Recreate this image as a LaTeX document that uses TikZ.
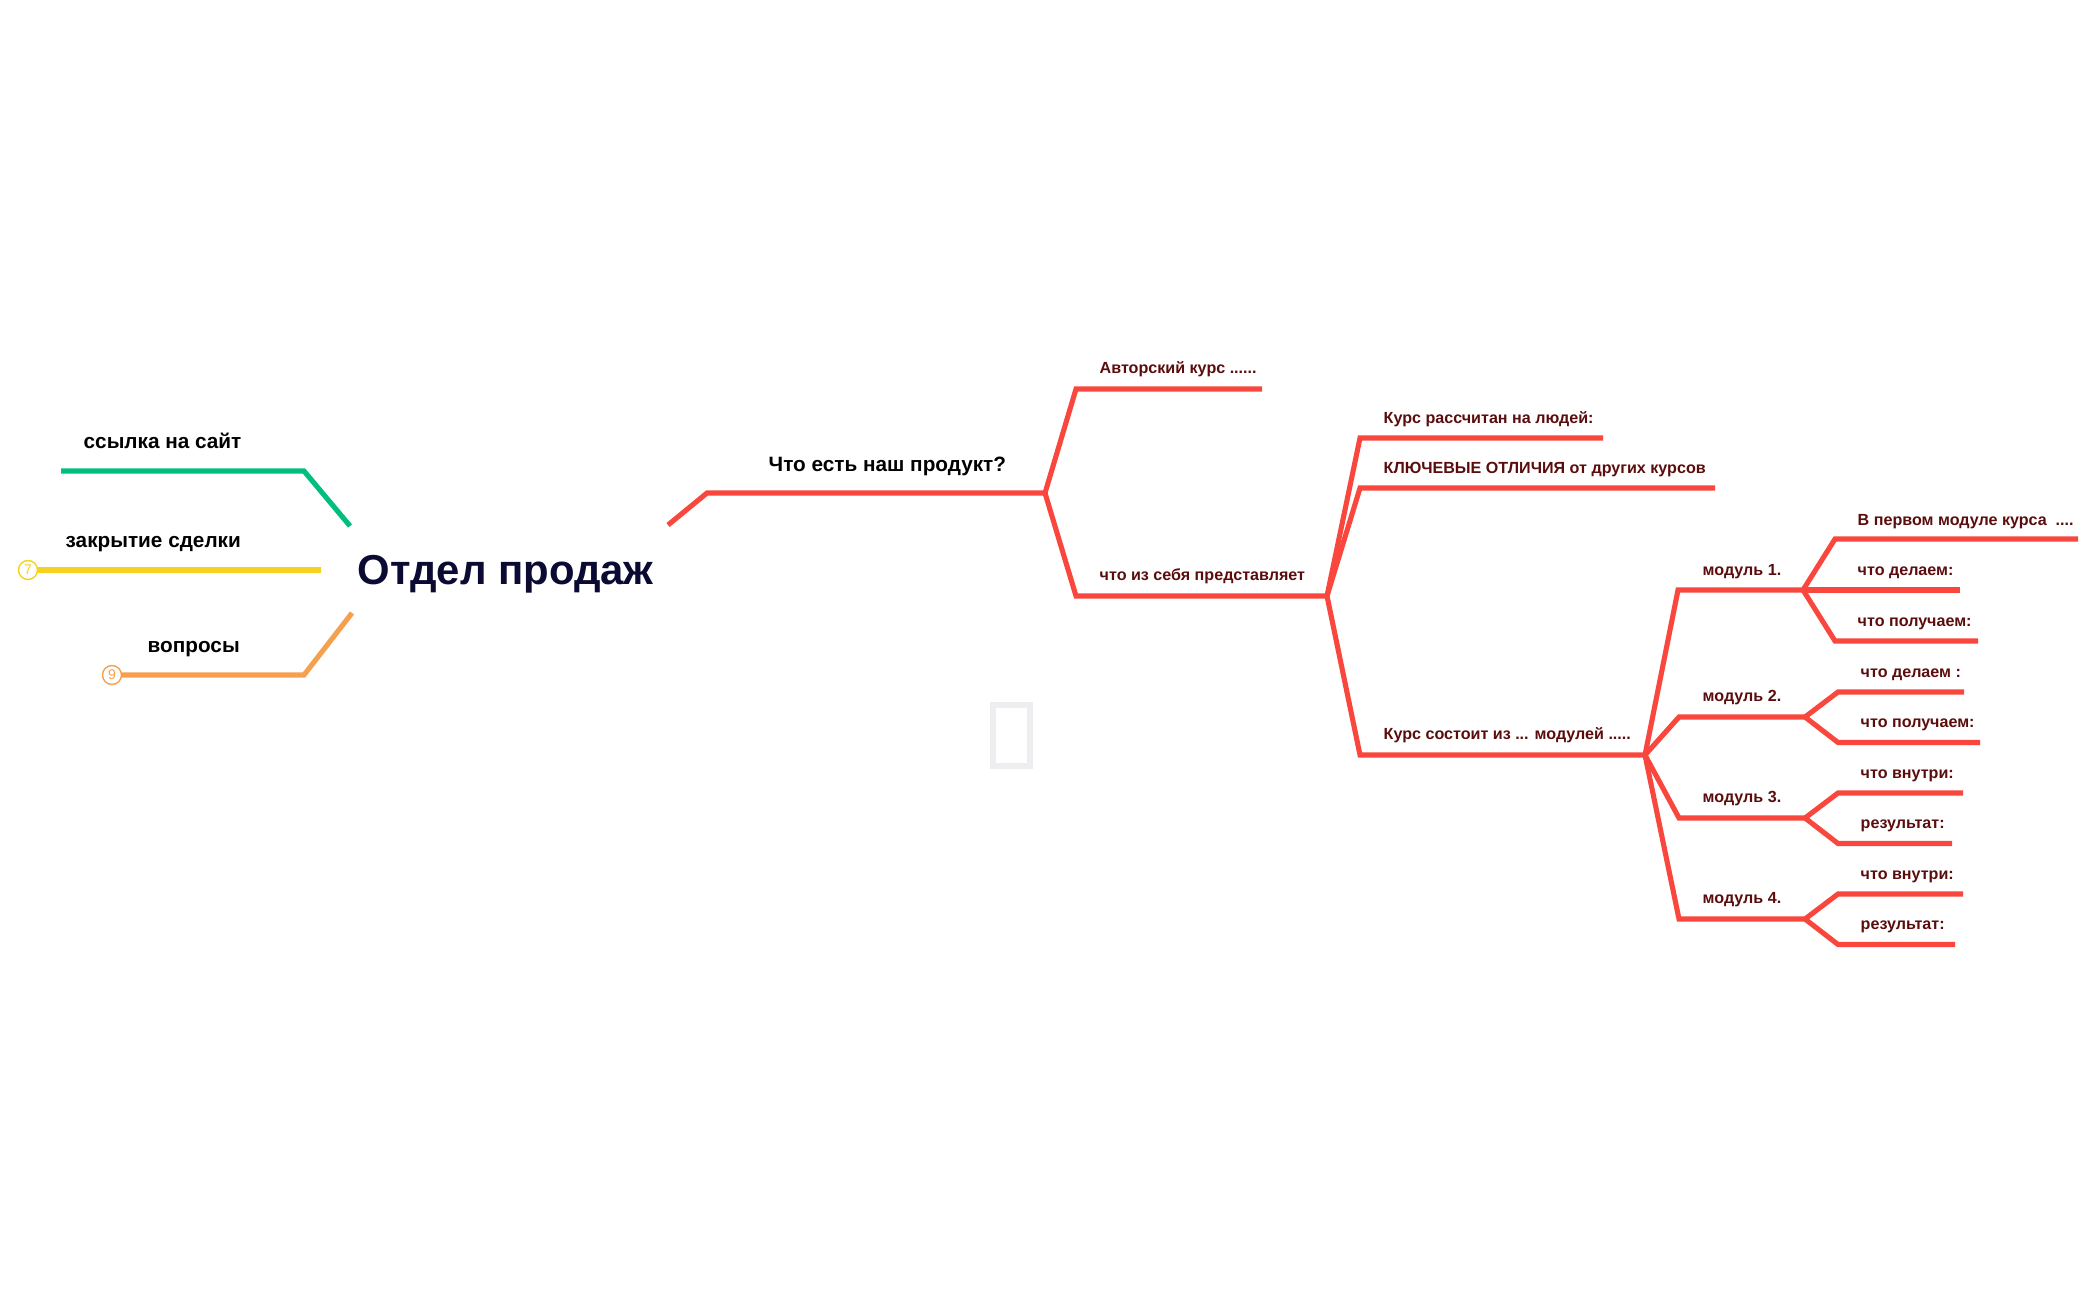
\documentclass[tikz,border=0pt]{standalone}
\usepackage{fontspec}
\setmainfont{Liberation Sans}
\definecolor{branchred}{HTML}{F9473E}
\definecolor{sitegreen}{HTML}{00BE7C}
\definecolor{dealyellow}{HTML}{F4D21F}
\definecolor{askorange}{HTML}{F5A04F}
\definecolor{subred}{HTML}{5B0D0D}
\definecolor{rootnavy}{HTML}{0A0A32}
\definecolor{tofugray}{HTML}{EEEEF0}

\begin{document}
\begin{tikzpicture}[x=0.01cm,y=-0.01cm,
    every node/.style={inner sep=0pt, anchor=base west},
    redline/.style={draw=branchred, line width=1.45pt},
    sideline/.style={draw=#1, line width=1.45pt},
    roottext/.style={font=\bfseries\fontsize{11.9}{13}\selectfont, text=rootnavy},
    lefttext/.style={font=\bfseries\fontsize{5.9}{7}\selectfont, text=black},
    subtext/.style={font=\bfseries\fontsize{4.58}{5}\selectfont, text=subred},
    badge/.style={circle, draw=#1, text=#1, line width=0.4pt, minimum size=0.19cm,
        anchor=center, font=\fontsize{4}{4}\selectfont}]

    \useasboundingbox (0,0) rectangle (2097,1300);

    % Centre
    \node[roottext] (root) at (357,584) {Отдел продаж};

    % Left branches
    \coordinate (site0) at (350,526);
    \coordinate (site1) at (304,471);
    \coordinate (site2) at (61,471);
    \draw[sideline=sitegreen] (site0) -- (site1) -- (site2);
    \node[lefttext] (site) at (83,448) {ссылка на сайт};

    \coordinate (deal0) at (321,570);
    \node[badge=dealyellow] (dealno) at (28,570) {7};
    \draw[sideline=dealyellow] (deal0) -- (dealno.east);
    \node[lefttext] (deal) at (65,547) {закрытие сделки};

    \coordinate (ask0) at (352,613);
    \coordinate (ask1) at (304,675);
    \node[badge=askorange] (askno) at (112,675) {9};
    \draw[sideline=askorange] (ask0) -- (ask1) -- (askno.east);
    \node[lefttext] (ask) at (147,652) {вопросы};

    % Product branch
    \coordinate (prod0) at (668,525);
    \coordinate (prod1) at (707,493);
    \coordinate (prodfork) at (1045,493);
    \draw[redline] (prod0) -- (prod1) -- (prodfork);
    \node[lefttext] (prod) at (768,471) {Что есть наш продукт?};

    \coordinate (auth1) at (1076,389);
    \coordinate (auth2) at (1262,389);
    \draw[redline] (prodfork) -- (auth1) -- (auth2);
    \node[subtext] (auth) at (1099,373) {Авторский курс ......};

    \coordinate (what1) at (1076,596);
    \coordinate (whatfork) at (1327,596);
    \draw[redline] (prodfork) -- (what1) -- (whatfork);
    \node[subtext] (what) at (1099,580) {что из себя представляет};

    % What it is
    \coordinate (people1) at (1360,438);
    \coordinate (people2) at (1603,438);
    \draw[redline] (whatfork) -- (people1) -- (people2);
    \node[subtext] (people) at (1383,423) {Курс рассчитан на людей:};

    \coordinate (key1) at (1360,488);
    \coordinate (key2) at (1715,488);
    \draw[redline] (whatfork) -- (key1) -- (key2);
    \node[subtext] (key) at (1383,473) {КЛЮЧЕВЫЕ ОТЛИЧИЯ от других курсов};

    \coordinate (cons1) at (1360,755);
    \coordinate (consfork) at (1645,755);
    \draw[redline] (whatfork) -- (cons1) -- (consfork);
    \node[subtext] (cons) at (1383,739) {Курс состоит из ... модулей .....};

    % Module 1
    \coordinate (m1-bend) at (1678,590);
    \coordinate (m1-fork) at (1803,590);
    \draw[redline] (consfork) -- (m1-bend) -- (m1-fork);
    \node[subtext] (m1) at (1702,575) {модуль 1.};
    \coordinate (m1-a1) at (1835,539);
    \coordinate (m1-a2) at (2078,539);
    \draw[redline] (m1-fork) -- (m1-a1) -- (m1-a2);
    \node[subtext] (m1-a) at (1857,525) {В первом модуле курса\ \ ....};
    \coordinate (m1-b2) at (1960,590);
    \draw[redline] (m1-fork) -- (m1-b2);
    \node[subtext] (m1-b) at (1857,575) {что делаем:};
    \coordinate (m1-c1) at (1835,641);
    \coordinate (m1-c2) at (1978,641);
    \draw[redline] (m1-fork) -- (m1-c1) -- (m1-c2);
    \node[subtext] (m1-c) at (1857,626) {что получаем:};

    % Modules 2-4
    \foreach \i/\my/\ax/\bx/\ta/\tb in {2/717/1964/1980/что делаем :/что получаем:,
        3/818/1963/1952/что внутри:/результат:,
        4/919/1963/1955/что внутри:/результат:} {
        \coordinate (m\i-bend) at (1679,\my);
        \coordinate (m\i-fork) at (1805,\my);
        \draw[redline] (consfork) -- (m\i-bend) -- (m\i-fork);
        \node[subtext] (m\i) at (1702,\my-15.5) {модуль \i.};
        \coordinate (m\i-a1) at (1838,\my-25);
        \coordinate (m\i-a2) at (\ax,\my-25);
        \draw[redline] (m\i-fork) -- (m\i-a1) -- (m\i-a2);
        \node[subtext] (m\i-a) at (1860,\my-40) {\ta};
        \coordinate (m\i-b1) at (1838,\my+25.5);
        \coordinate (m\i-b2) at (\bx,\my+25.5);
        \draw[redline] (m\i-fork) -- (m\i-b1) -- (m\i-b2);
        \node[subtext] (m\i-b) at (1860,\my+10) {\tb};
    }

    % Empty glyph box
    \draw[tofugray, line width=1.7pt] (993,705) rectangle (1030,766);

\end{tikzpicture}
\end{document}
